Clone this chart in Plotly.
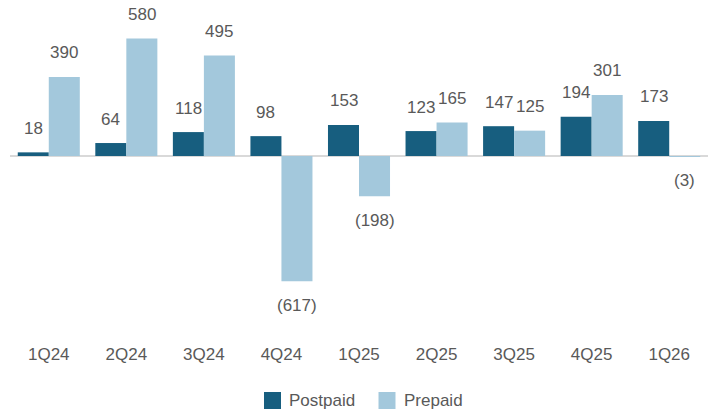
import plotly.graph_objects as go

quarters = ["1Q24", "2Q24", "3Q24", "4Q24", "1Q25", "2Q25", "3Q25", "4Q25", "1Q26"]
postpaid = [18, 64, 118, 98, 153, 123, 147, 194, 173]
prepaid = [390, 580, 495, -617, -198, 165, 125, 301, -3]
series_names = ["Postpaid", "Prepaid"]

C_POST = "#175e7f"
C_PRE = "#a3c8dc"
TXT = "#595959"
FONT = "Liberation Sans, Arial, sans-serif"

W, H = 713, 411
ML, MR, MT, MB = 10, 5, 20, 69
PW, PH = W - ML - MR, H - MT - MB

def px_x(X):
    return (X - ML) / PW

def px_y(Y):
    return (H - MB - Y) / PH

def fmt(v):
    return f"({abs(v)})" if v < 0 else f"{v}"

fig = go.Figure()
for name, vals, col in ((series_names[0], postpaid, C_POST), (series_names[1], prepaid, C_PRE)):
    fig.add_bar(x=quarters, y=vals, name=name, marker_color=col, marker_line_width=0,
                showlegend=False)

ann = []
for series, shift in ((postpaid, -15.5), (prepaid, 15.5)):
    for q, v in zip(quarters, series):
        ann.append(dict(x=q, y=v, xref="x", yref="y", text=fmt(v), showarrow=False,
                        xshift=shift, yshift=24 if v >= 0 else -24, yanchor="middle",
                        font=dict(size=17, color=TXT, family=FONT)))

# manual legend (swatch + label) below the axis
shapes = []
for name, col, sx, tx in ((series_names[0], C_POST, 272.5, 287),
                          (series_names[1], C_PRE, 387, 402)):
    shapes.append(dict(type="rect", xref="paper", yref="paper",
                       xsizemode="pixel", ysizemode="pixel",
                       xanchor=px_x(sx), yanchor=px_y(400.5),
                       x0=-8.5, x1=8.5, y0=-8.5, y1=8.5,
                       fillcolor=col, line=dict(width=0)))
    ann.append(dict(x=px_x(tx), y=px_y(400), xref="paper", yref="paper", text=name,
                    showarrow=False, xanchor="left", yanchor="middle",
                    font=dict(size=17, color=TXT, family=FONT)))

fig.update_layout(
    width=W, height=H,
    margin=dict(l=ML, r=MR, t=MT, b=MB),
    paper_bgcolor="white", plot_bgcolor="white",
    barmode="group", bargap=0.2, bargroupgap=0,
    font=dict(family=FONT, color=TXT, size=17),
    annotations=ann,
    shapes=shapes,
    showlegend=False,
    xaxis=dict(showgrid=False, showline=False, ticks="", tickfont=dict(size=17, color=TXT)),
    yaxis=dict(range=[-917, 670.6], showgrid=False, showticklabels=False, zeroline=True,
               zerolinecolor="#d9d9d9", zerolinewidth=1.5),
)

fig.write_html("out.html", config={"displayModeBar": False},
               post_script="document.body.style.margin='0';")
